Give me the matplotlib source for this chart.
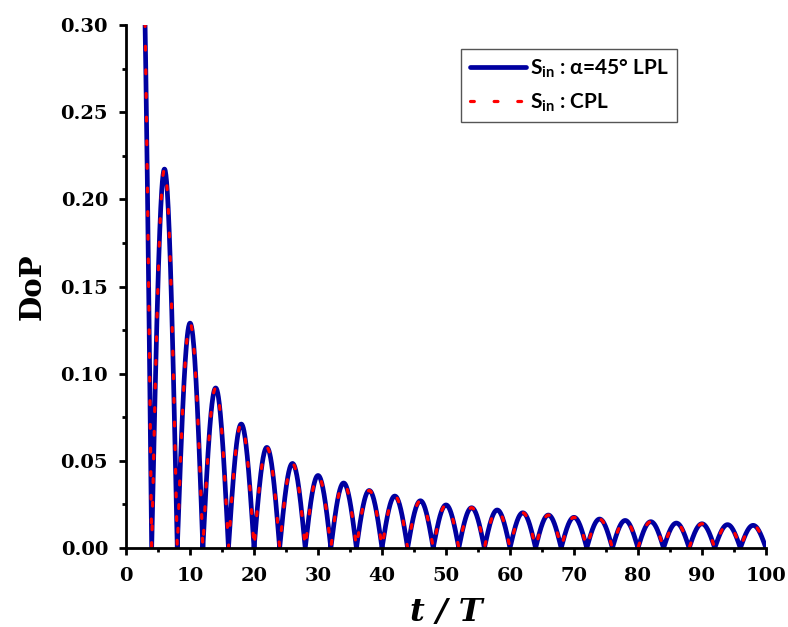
import numpy as np
import matplotlib
matplotlib.use('Agg')
import matplotlib.pyplot as plt
from matplotlib.ticker import MultipleLocator, FormatStrFormatter

# Ívek határai (t/T), minden ív 4 egység széles, az első csak a csúcs utáni fele
arch_start = [2, 4, 8, 12, 16, 20, 24, 28, 32, 36, 40, 44, 48, 52, 56, 60,
              64, 68, 72, 76, 80, 84, 88, 92, 96]
arch_left_zero = [0, 4, 8, 12, 16, 20, 24, 28, 32, 36, 40, 44, 48, 52, 56, 60,
                  64, 68, 72, 76, 80, 84, 88, 92, 96]
# Ívek csúcsértékei (DoP)
arch_peak = [0.415, 0.2174, 0.1290, 0.0918, 0.0711, 0.0577, 0.0485, 0.0416,
             0.0373, 0.0330, 0.0298, 0.0271, 0.0247, 0.0231, 0.0218, 0.0202,
             0.0189, 0.0176, 0.0166, 0.0158, 0.0151, 0.0143, 0.0139, 0.0134,
             0.0130]
arch_width = 4.0

label_lpl = r'S$_{\mathbf{in}}$ : α=45° LPL'
label_cpl = r'S$_{\mathbf{in}}$ : CPL'


def build_curve():
    ts, ys = [], []
    for s, z, p in zip(arch_start, arch_left_zero, arch_peak):
        t = np.linspace(s, z + arch_width, 80)
        ys.append(p * np.abs(np.sin(np.pi * (t - z) / arch_width)))
        ts.append(t)
    return np.concatenate(ts), np.concatenate(ys)


def main():
    plt.rcParams['mathtext.fontset'] = 'custom'
    plt.rcParams['mathtext.rm'] = 'Lato:bold'
    plt.rcParams['mathtext.bf'] = 'Lato:bold'

    t, dop = build_curve()

    fig = plt.figure(figsize=(7.88, 6.27), dpi=100)
    ax = fig.add_axes([0.160, 0.126, 0.812, 0.834])

    ax.plot(t, dop, color='#0000a0', linewidth=3.4, label=label_lpl,
            solid_capstyle='round')
    ax.plot(t, dop, color='red', linewidth=2.3, linestyle=(0, (1.2, 6.2)),
            dash_capstyle='round', label=label_cpl)

    ax.set_xlim(0, 100)
    ax.set_ylim(0, 0.30)
    ax.xaxis.set_major_locator(MultipleLocator(10))
    ax.xaxis.set_minor_locator(MultipleLocator(5))
    ax.yaxis.set_major_locator(MultipleLocator(0.05))
    ax.yaxis.set_minor_locator(MultipleLocator(0.025))
    ax.yaxis.set_major_formatter(FormatStrFormatter('%.2f'))

    for side in ['top', 'right']:
        ax.spines[side].set_visible(False)
    for side in ['left', 'bottom']:
        ax.spines[side].set_linewidth(2.0)

    ax.tick_params(which='major', direction='out', length=5, width=2.0)
    ax.tick_params(axis='y', which='major', pad=8)
    ax.tick_params(axis='x', which='major', pad=9)
    ax.tick_params(which='minor', direction='out', length=2.8, width=2.0)
    for lab in ax.get_xticklabels() + ax.get_yticklabels():
        lab.set_fontfamily('DejaVu Serif')
        lab.set_fontweight('bold')
        lab.set_fontsize(14)

    ax.set_ylabel('DoP', fontfamily='DejaVu Serif', fontweight='bold',
                  fontsize=21, labelpad=10)
    ax.set_xlabel('t / T', fontfamily='DejaVu Serif', fontweight='bold',
                  fontstyle='italic', fontsize=23, labelpad=8)

    leg = ax.legend(loc='upper right', bbox_to_anchor=(0.859, 0.922),
                    bbox_transform=fig.transFigure, borderaxespad=0,
                    fancybox=False, framealpha=1, edgecolor='#555555',
                    handlelength=2.7, handletextpad=0.2, labelspacing=0.55,
                    borderpad=0.4,
                    prop={'family': 'Lato', 'weight': 'bold', 'size': 15})
    leg.get_frame().set_linewidth(1.0)

    fig.savefig('out.png', dpi=100)


if __name__ == "__main__":
    main()
